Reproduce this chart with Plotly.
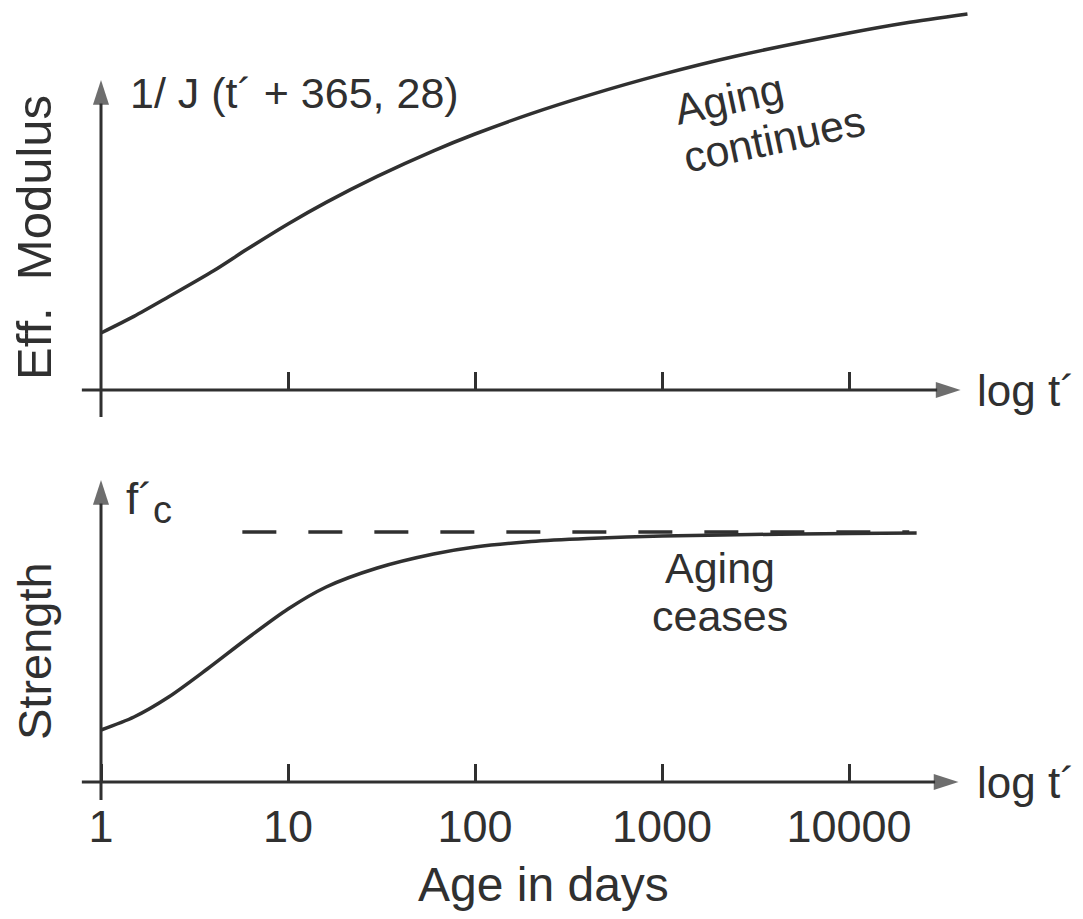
import math
import plotly.graph_objects as go

# ---------------- data ----------------
modulus_age_days = [1, 1.5, 2.3, 4, 6, 10, 16, 30, 60, 100, 200, 400, 1000, 2500, 10000, 20000, 43000]
eff_modulus = [1.425, 1.84, 2.33, 2.98, 3.51, 4.15, 4.69, 5.34, 5.98, 6.4, 6.91, 7.36, 7.89, 8.35, 8.925, 9.175, 9.4]

strength_age_days = [1, 1.5, 2.3, 3.7, 6, 10, 16, 30, 60, 100, 200, 400, 1000, 3000, 10000, 23000]
strength = [1.3, 1.625, 2.125, 2.825, 3.575, 4.325, 4.875, 5.35, 5.7, 5.875, 6.0125, 6.0875, 6.15, 6.1875, 6.2125, 6.225]

fc_limit_age_days = [5.7, 21000]
fc_limit = [6.25, 6.25]

tick_vals = [1, 10, 100, 1000, 10000]
tick_text = ["1", "10", "100", "1000", "10000"]

# axis extents (drawn axes with arrows)
top_xaxis_x = [0.79, 39500]
top_yaxis_y = [-0.675, 7.75]
bot_xaxis_x = [0.79, 38500]
bot_yaxis_y = [-0.45, 7.55]

# ---------------- styling ----------------
PAGE_W, PAGE_H = 1083, 919
OFF = 8  # default page body margin
WF, HF = PAGE_W - OFF, PAGE_H - OFF
INK = "#303030"
FONT = "Liberation Sans, Arial, Helvetica, sans-serif"
PX_PER_DECADE = 187.0
X0_PX = 101.0          # page x of t = 1
UNIT = 40.0            # page px per y unit
TOP_AX_Y, BOT_AX_Y, SPLIT_Y = 390.0, 782.0, 440.0

xr = [(OFF - X0_PX) / PX_PER_DECADE, (PAGE_W - X0_PX) / PX_PER_DECADE]
split = 1 - (SPLIT_Y - OFF) / HF

fig = go.Figure()

curve_line = dict(color=INK, width=3.5, shape="spline", smoothing=0.8)
fig.add_trace(go.Scatter(x=modulus_age_days, y=eff_modulus, mode="lines", line=curve_line, xaxis="x", yaxis="y", hoverinfo="skip"))
fig.add_trace(go.Scatter(x=strength_age_days, y=strength, mode="lines", line=curve_line, xaxis="x2", yaxis="y2", hoverinfo="skip"))
fig.add_trace(go.Scatter(x=fc_limit_age_days, y=fc_limit, mode="lines", line=dict(color=INK, width=3.5, dash="34px,32px"), xaxis="x2", yaxis="y2", hoverinfo="skip"))

def arrow_line(xs, ys, xa, ya):
    fig.add_trace(go.Scatter(
        x=xs, y=ys, mode="lines+markers", xaxis=xa, yaxis=ya, hoverinfo="skip",
        line=dict(color=INK, width=3),
        marker=dict(symbol="arrow", size=[0, 26], color=INK, angleref="previous", line=dict(width=0)),
    ))

arrow_line(top_xaxis_x, [0, 0], "x", "y")
arrow_line([1, 1], top_yaxis_y, "x", "y")
arrow_line(bot_xaxis_x, [0, 0], "x2", "y2")
arrow_line([1, 1], bot_yaxis_y, "x2", "y2")

axis_common = dict(type="log", range=xr, domain=[0, 1], showgrid=False, zeroline=False, showline=False,
                   ticks="inside", ticklen=18, tickwidth=3, tickcolor=INK, anchor="free")

fig.update_layout(
    width=WF, height=HF,
    margin=dict(l=0, r=0, t=0, b=0, autoexpand=False),
    paper_bgcolor="white", plot_bgcolor="white",
    showlegend=False,
    font=dict(family=FONT, color=INK),
    xaxis=dict(**axis_common, tickvals=tick_vals[1:], showticklabels=False, position=1 - (TOP_AX_Y - OFF) / HF),
    xaxis2=dict(**axis_common, tickvals=tick_vals, ticktext=tick_text, position=1 - (BOT_AX_Y - OFF) / HF,
                tickfont=dict(size=45, family=FONT, color=INK), ticklabelstandoff=14),
    yaxis=dict(domain=[split, 1], range=[(TOP_AX_Y - SPLIT_Y) / UNIT, (TOP_AX_Y - OFF) / UNIT], visible=False),
    yaxis2=dict(domain=[0, split], range=[(BOT_AX_Y - PAGE_H) / UNIT, (BOT_AX_Y - SPLIT_Y) / UNIT], visible=False),
)

def ann(text, xpx, ypx, size=44, angle=0, xanchor="center", yanchor="middle"):
    fig.add_annotation(text=text, x=(xpx - OFF) / WF, y=1 - (ypx - OFF) / HF, xref="paper", yref="paper",
                       showarrow=False, textangle=angle, xanchor=xanchor, yanchor=yanchor,
                       font=dict(size=size, family=FONT, color=INK))

ann("1/ J (t\u00b4 + 365, 28)", 128, 93, size=43, xanchor="left")
ann("log t\u00b4", 975, 390, size=44, xanchor="left")
ann("log t\u00b4", 975, 782, size=44, xanchor="left")
ann("Aging", 729, 99, size=43, angle=-12)
ann("continues", 774, 139, size=43, angle=-12)
ann("Aging", 720, 568, size=43)
ann("ceases", 720, 616, size=43)
ann("f\u00b4<sub><span style='font-size:38px'>c</span></sub>", 124, 502, size=44, xanchor="left")
ann("Eff.  Modulus", 34, 238, size=49, angle=-90)
ann("Strength", 34, 651, size=47, angle=-90)
ann("Age in days", 543, 884, size=48)

fig.write_html("out.html")
